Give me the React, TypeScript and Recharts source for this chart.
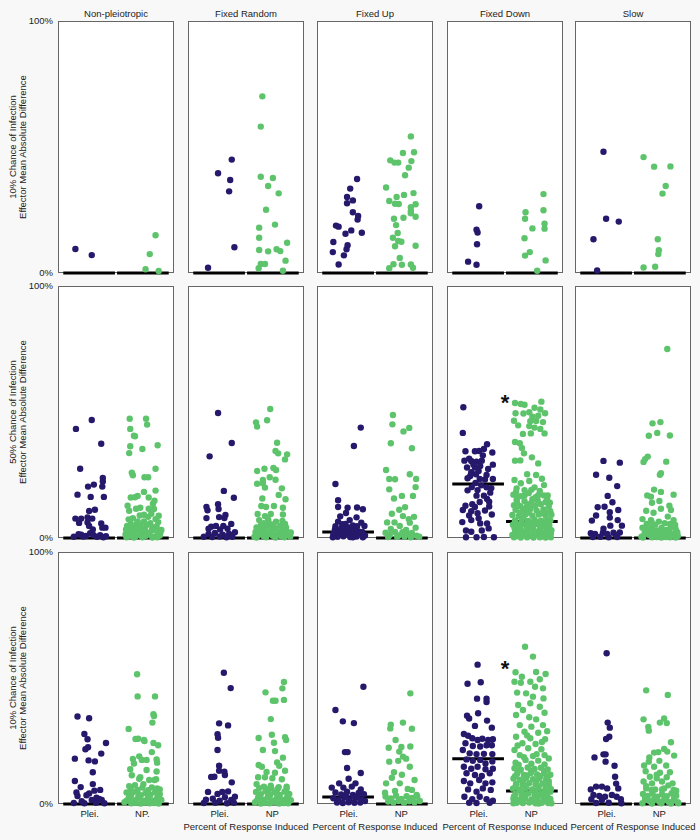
import { ReferenceLine, Scatter, ScatterChart, XAxis, YAxis } from "recharts";

type Pt = [number, number];

const columns = ["Non-pleiotropic", "Fixed Random", "Fixed Up", "Fixed Down", "Slow"];
const rowLabels = [
  ["10% Chance of Infection", "Effector Mean Absolute Difference"],
  ["50% Chance of Infection", "Effector Mean Absolute Difference"],
  ["10% Chance of Infection", "Effector Mean Absolute Difference"],
];
const yTicks = [0, 100];
const xTicks = [1, 2];
const groupLabels = ["Plei.", "NP"];
const firstGroupLabels = ["Plei.", "NP."];
const xTitle = "Percent of Response Induced";

// medians (%), rows x columns
const pleiMedians = [
  [0, 0, 0, 0, 0],
  [0, 0, 2.4, 21.4, 0],
  [0, 0, 2.8, 18, 0],
];
const npMedians = [
  [0, 0, 0, 0, 0],
  [0, 0, 0, 6.5, 0],
  [0, 0, 0, 5.2, 0],
];
const starred = [
  [false, false, false, false, false],
  [false, false, false, true, false],
  [false, false, false, true, false],
];

// ---- row 1: 10% chance of infection ----
const r1NonPleiPlei: Pt[] = [[0.73, 9.5], [1.04, 7.1]];
const r1NonPleiNp: Pt[] = [[2.25, 15], [2.14, 7.5], [2.06, 1.5], [2.31, 0.8]];

const r1RandomPlei: Pt[] = [[0.78, 2.1], [0.97, 39.6], [1.23, 45], [1.2, 36.9], [1.18, 32.4], [1.28, 10.2]];
const r1RandomNp: Pt[] = [
  [1.81, 70.1], [1.78, 58.1], [1.78, 38.2], [2.01, 37.7], [1.92, 34.5], [2.12, 31.6], [1.88, 25.1],
  [2.05, 19.2], [1.75, 18], [1.75, 14], [2.28, 12], [1.75, 9.1], [1.92, 8.6], [2.08, 9.4], [2.15, 8.7],
  [2.25, 4.9], [1.78, 3.6], [1.86, 3.6], [1.74, 1.9], [2.2, 0.9],
];

const r1UpPlei: Pt[] = [
  [1.16, 37.3], [1.03, 33.5], [0.97, 30.2], [1.08, 28.8], [0.97, 27.7], [1.08, 24.1], [1.18, 22.6],
  [1.17, 21.2], [0.76, 18.8], [0.81, 18.4], [1.05, 16.9], [0.94, 15.6], [1.25, 16], [0.71, 12.3],
  [0.98, 11], [0.96, 9.4], [0.7, 8.3], [0.91, 7], [0.81, 3.4],
];
const r1UpNp: Pt[] = [
  [2.18, 54.2], [2.03, 47.6], [2.24, 47.9], [1.79, 44.7], [1.87, 43.8], [1.94, 43.8], [2.19, 44.4],
  [2.14, 41.8], [2.07, 38.8], [1.71, 33.9], [1.91, 30.2], [2.05, 31], [2.23, 31.7], [1.77, 28.6],
  [1.88, 27.5], [1.95, 27.4], [2.27, 27.3], [2.18, 26.1], [2.18, 23.7], [2.18, 24.6], [2.27, 22.3],
  [2.04, 21.9], [1.86, 21.5], [1.9, 19], [1.93, 15.9], [1.84, 14], [1.94, 12.7], [2.0, 12.4],
  [1.88, 10.6], [2.27, 10.8], [1.97, 6], [1.85, 3.5], [2.01, 3.3], [2.18, 3.4], [1.77, 1.9], [2.22, 2.1],
];

const r1DownPlei: Pt[] = [[1.01, 26.5], [0.96, 17.2], [0.98, 16.1], [0.97, 11.4], [0.8, 4.5], [0.96, 3.3]];
const r1DownNp: Pt[] = [
  [2.23, 31.3], [1.89, 24.1], [2.23, 24.9], [1.88, 21.5], [2.25, 19.6], [2.25, 17.6], [2.02, 17.7],
  [1.87, 13.8], [1.97, 8.3], [1.88, 6.9], [2.27, 5], [2.11, 0.9],
];

const r1SlowPlei: Pt[] = [[0.94, 48.1], [0.99, 21.5], [1.23, 20.4], [0.75, 13.4], [0.82, 1]];
const r1SlowNp: Pt[] = [
  [1.7, 46], [1.9, 42.2], [2.21, 42.3], [2.12, 34.5], [2.06, 31.5], [1.97, 13.4], [1.99, 9], [1.98, 7.5],
  [1.7, 2.2], [1.92, 2.5],
];

// ---- row 2: 50% chance of infection ----
const r2NonPleiPlei: Pt[] = [
  [1.04, 46.8], [0.74, 43.3], [1.22, 37.4], [0.82, 27.5], [1.25, 23.8], [1.25, 22.4], [1.08, 21.2],
  [0.97, 20.4], [1.24, 20.4], [0.77, 17.2], [1.02, 16.3], [1.27, 16.3], [1.1, 11.2], [0.99, 10.7],
  [0.73, 7.7], [0.84, 7.7], [0.96, 8.2], [1.05, 7.7], [0.8, 6], [0.96, 6.2], [0.99, 4.8], [1.22, 5.8],
  [1.24, 4.1], [1.06, 3.4], [1.3, 4.1], [0.79, 1.5], [0.84, 1.3], [1.01, 1.9], [1.07, 1.2], [1.2, 1.1],
  [1.31, 0.7], [0.93, 0.8], [0.7, 0.5], [0.88, 0.6], [1.14, 0.5], [1.26, 0.3],
];
const r2NonPleiNp: Pt[] = [
  [1.76, 47.3], [2.07, 47.3], [2.09, 45], [1.77, 43.3], [1.84, 40.6], [1.86, 40.4], [1.77, 36.4],
  [2.0, 35.3], [2.29, 36.8], [1.75, 33.7], [2.25, 27.5], [1.8, 25.9], [1.82, 24.9], [2.04, 24.1],
  [2.11, 24.1], [1.78, 16.1], [1.86, 16.2], [1.91, 16.7], [2.03, 18.3], [2.25, 18.8], [2.12, 16.1],
  [2.23, 14.8], [1.75, 10.8], [1.88, 11.6], [1.96, 12], [2.12, 11.6], [2.22, 11.5], [1.74, 7.4],
  [1.82, 7.9], [1.91, 6.6], [2.03, 9.2], [2.11, 8.4], [2.25, 7.5], [1.71, 4.8], [1.8, 4.2], [1.89, 4.9],
  [1.97, 5.4], [2.08, 5.2], [2.19, 4.3], [2.27, 4.6], [1.73, 2.5], [1.83, 1.8], [1.92, 2.9], [2.01, 2.2],
  [2.1, 2.1], [2.18, 3.1], [2.29, 2.4], [1.77, 0.9], [1.87, 0.6], [1.96, 1.1], [2.06, 0.8], [2.14, 1.3],
  [2.24, 0.6], [2.33, 1.0], [1.68, 1.4], [1.81, 3.4], [2.15, 5.9], [1.95, 8.9], [2.17, 9.6], [1.72, 12.8],
  [2.2, 13.6], [1.98, 3.8], [2.36, 3.2], [2.31, 8.8],
  [1.69, 3.4], [1.78, 2.9], [1.87, 3.6], [2.05, 3.2], [2.23, 3.4], [2.34, 2.0], [1.7, 0.3], [1.84, 0.2],
  [2.0, 0.3], [2.19, 0.2], [2.28, 0.3], [1.9, 5.9], [2.03, 6.6], [2.3, 6.3], [1.78, 5.7],
];

const r2RandomPlei: Pt[] = [
  [0.97, 49.6], [1.23, 37.7], [0.81, 32.4], [1.08, 18.7], [1.27, 16], [0.75, 12.3], [0.97, 13.4],
  [0.77, 11], [0.98, 11.5], [0.99, 8.3], [1.11, 9.1], [0.75, 7.9], [1.09, 7.9], [0.84, 4.5], [0.93, 4.8],
  [1.07, 4.8], [1.22, 5.6], [0.79, 3.7], [1.01, 3.4], [1.15, 3.7], [0.79, 1.6], [0.91, 2], [1.06, 1.3],
  [1.18, 1.6], [1.29, 2.3], [0.7, 0.5], [0.86, 0.4], [1.0, 0.6], [1.13, 0.3], [1.24, 0.5],
];
const r2RandomNp: Pt[] = [
  [1.96, 51.2], [1.69, 45.9], [1.71, 44.2], [1.9, 46.7], [2.09, 37.8], [2.06, 34.5], [2.11, 33.6],
  [2.28, 33.2], [2.24, 31.2], [1.71, 26.6], [1.85, 27.5], [2.02, 27.8], [2.07, 27], [1.82, 23],
  [1.95, 24.1], [2.06, 23.1], [1.71, 21.5], [1.82, 21.7], [1.86, 20], [2.18, 19.7], [1.81, 15.7],
  [2.12, 17.1], [2.25, 15.4], [1.79, 12.7], [1.88, 12.3], [2.03, 12.7], [2.2, 12], [1.72, 9.5],
  [1.86, 8.7], [1.97, 9.5], [2.2, 9.3], [1.75, 7.1], [1.92, 7.4], [2.07, 6.5], [2.24, 5.6],
  [1.7, 4.2], [1.79, 3.1], [1.88, 4.6], [1.96, 2.8], [2.05, 3.9], [2.13, 2.5], [2.21, 3.4], [2.3, 2.2],
  [1.74, 1.4], [1.83, 0.8], [1.92, 1.6], [2.01, 0.9], [2.09, 1.5], [2.17, 0.7], [2.26, 1.2], [2.34, 0.6],
  [1.66, 0.5], [2.02, 5.4], [2.15, 4.8], [1.84, 5.9],
  [1.68, 2.4], [1.76, 2.2], [1.85, 2.7], [2.0, 2.6], [2.18, 2.3], [2.35, 2.2], [1.7, 0.2], [1.88, 0.3],
  [2.06, 0.2], [2.23, 0.3], [1.78, 5.0], [1.97, 4.6], [2.26, 4.2], [1.93, 6.2], [2.19, 6.8],
];

const r2UpPlei: Pt[] = [
  [1.23, 43.8], [1.1, 36.5], [0.75, 21.4], [0.8, 15], [0.8, 12.3], [0.98, 12], [1.16, 12.1], [1.27, 11.4],
  [0.95, 9.9], [0.84, 8.6], [1.15, 8.2], [1.02, 7.1], [0.8, 6.5], [1.24, 6.1], [0.94, 5.6], [1.3, 4.8],
  [0.75, 4.7], [0.86, 3.9], [1.0, 4.2], [1.12, 3.6], [0.78, 2.8], [0.92, 2.5], [1.05, 2.9], [1.19, 2.6],
  [0.71, 1.6], [0.84, 1.4], [0.97, 1.8], [1.09, 1.2], [1.22, 1.7], [1.31, 1.0], [0.79, 0.5], [0.9, 0.7],
  [1.03, 0.4], [1.15, 0.6], [1.27, 0.3], [0.95, 3.3], [1.08, 5.0], [0.88, 5.5],
  [0.74, 3.4], [0.83, 2.6], [1.16, 4.7], [1.26, 2.4], [0.91, 1.1], [1.14, 1.3], [0.7, 0.3], [1.08, 0.3],
];
const r2UpNp: Pt[] = [
  [1.84, 48.8], [1.83, 45.1], [2.04, 42.3], [2.15, 43.7], [1.8, 37.6], [2.2, 35.6], [1.71, 27], [2.16, 25.3],
  [1.77, 23.4], [1.88, 23.3], [2.28, 23.4], [1.77, 19.3], [2.27, 20.2], [1.86, 15.7], [2.01, 16.7],
  [2.22, 16.7], [1.96, 11.2], [2.07, 12.2], [2.03, 8.7], [1.73, 6.2], [1.87, 6.2], [2.16, 6.1], [1.97, 4.8],
  [2.27, 4.1], [1.8, 3.6], [2.09, 3.2], [1.7, 2.1], [1.78, 1.2], [1.88, 2.4], [1.95, 1.0], [2.02, 2.3],
  [2.12, 1.5], [2.2, 2.0], [2.29, 0.9], [1.75, 0.4], [1.92, 0.5], [2.06, 0.6], [2.18, 0.3], [2.34, 0.5],
  [2.14, 7.5], [1.82, 9.6], [2.24, 8.4],
];

const r2DownPlei: Pt[] = [
  [0.71, 51.9], [0.7, 41.7], [0.75, 34.4], [0.93, 34.4], [1.01, 34.5], [1.16, 37.2], [1.1, 35.3],
  [1.26, 33.9], [0.73, 30.7], [0.86, 30.6], [0.96, 30.3], [1.06, 30.7], [1.27, 29.1], [0.78, 28],
  [0.93, 28], [1.03, 28.6], [0.86, 26.1], [0.95, 25.3], [1.15, 25], [0.79, 23.7], [1.02, 23.4],
  [1.27, 23.4], [0.87, 20.2], [1.15, 20.1], [0.98, 19], [1.22, 18], [0.96, 16.8], [1.1, 16.8],
  [1.2, 14.4], [0.75, 12.8], [0.93, 12.3], [1.2, 12.5], [0.7, 11.1], [0.86, 10.6], [1.12, 10.9],
  [0.86, 7.1], [1.0, 7.8], [0.69, 6.3], [1.03, 5.8], [1.16, 5.8], [0.76, 3], [1.06, 3], [0.76, 0.3],
  [0.96, 0.3], [1.1, 0.4], [1.29, 0.3], [0.82, 31.5], [1.08, 32.8], [0.9, 29.2], [1.18, 27.4],
  [1.0, 26.6], [0.84, 24.6], [1.12, 23.2], [0.94, 21.8], [1.05, 20.9], [1.24, 19.8], [0.79, 18.9],
  [1.02, 14.3], [1.16, 15.5], [0.88, 13.4], [0.98, 9.8], [1.25, 9.3], [0.82, 8.9], [1.19, 3.8], [0.86, 2.5],
];
const r2DownNp: Pt[] = [
  [1.69, 53.6], [1.8, 53.2], [1.87, 52.9], [2.19, 54.1], [2.06, 51.7], [2.17, 51], [2.26, 49.5],
  [1.7, 49.5], [1.85, 49.4], [1.96, 49.9], [2.02, 48.1], [2.13, 48.5], [1.67, 46.5], [1.98, 46.3],
  [2.09, 46.4], [2.22, 46], [1.75, 44.7], [1.96, 44.4], [2.06, 43.8], [2.17, 43.3], [2.25, 41.5],
  [1.84, 41.3], [1.99, 41.5], [1.69, 38.1], [1.78, 37.6], [1.82, 35.7], [1.86, 33.6], [2.01, 32],
  [1.69, 30.7], [1.79, 30.8], [2.13, 29.6], [1.92, 25.3], [2.09, 25], [1.68, 23], [2.2, 23.5],
  [1.8, 21.7], [1.96, 22.6], [2.24, 21], [1.72, 19.7], [1.87, 19], [2.06, 20.1], [2.16, 18.7],
  [1.66, 17.2], [1.8, 16.6], [1.95, 17.8], [2.24, 16.9],
  [1.72, 15.1], [1.87, 14.6], [2.02, 15.4], [2.12, 14.9], [2.3, 15.2],
  [1.67, 13.0], [1.79, 12.6], [1.93, 13.3], [2.07, 12.8], [2.18, 13.4], [2.33, 12.5],
  [1.7, 11.2], [1.84, 10.7], [1.98, 11.5], [2.1, 10.9], [2.23, 11.3], [2.36, 10.6],
  [1.64, 9.1], [1.76, 8.7], [1.89, 9.4], [2.02, 8.8], [2.14, 9.3], [2.27, 8.9], [2.38, 9.2],
  [1.69, 7.0], [1.82, 7.4], [1.94, 6.8], [2.06, 7.3], [2.18, 6.9], [2.31, 7.2],
  [1.65, 5.3], [1.77, 4.9], [1.88, 5.4], [2.0, 5.0], [2.11, 5.5], [2.22, 4.8], [2.34, 5.1],
  [1.7, 3.2], [1.82, 2.8], [1.93, 3.4], [2.05, 2.9], [2.16, 3.3], [2.28, 2.7], [2.38, 3.1],
  [1.64, 1.2], [1.75, 0.8], [1.87, 1.4], [1.98, 0.9], [2.09, 1.3], [2.21, 0.7], [2.32, 1.1],
  [1.73, 16.0], [2.08, 16.2], [2.35, 14.0], [1.9, 12.0], [2.27, 10.2], [1.78, 10.0], [2.0, 6.1],
  [2.25, 6.0], [1.92, 2.0], [2.13, 2.1],
  [1.7, 6.2], [1.81, 6.0], [1.96, 5.9], [2.09, 6.3], [2.24, 6.6], [2.36, 7.0], [1.68, 4.1], [1.79, 4.0],
  [1.92, 4.4], [2.03, 4.1], [2.17, 4.5], [2.29, 4.0], [1.69, 2.2], [1.8, 1.9], [1.93, 2.4], [2.04, 1.9],
  [2.19, 2.3], [2.3, 2.0], [2.37, 1.9], [1.67, 0.3], [1.8, 0.2], [1.92, 0.3], [2.04, 0.2], [2.16, 0.3],
  [2.27, 0.2], [2.37, 0.3], [1.85, 8.0], [2.2, 9.8], [1.95, 10.1], [1.73, 13.9], [2.0, 14.0], [2.27, 14.3],
  [1.87, 16.9], [2.13, 17.0], [2.31, 16.9], [1.71, 18.3], [2.0, 19.1],
];

const r2SlowPlei: Pt[] = [
  [0.94, 30.6], [1.25, 29.9], [0.8, 25.1], [1.05, 23.9], [1.2, 20.6], [1.02, 16.7], [1.11, 14.2],
  [0.83, 12.2], [0.96, 12.4], [1.22, 11.1], [0.8, 8.9], [1.06, 10.2], [1.06, 8.1], [0.72, 6.9],
  [1.21, 7.1], [1.29, 4.9], [0.94, 3.7], [1.07, 4.9], [0.7, 1.9], [0.78, 1.6], [0.93, 2.1], [1.01, 1.6],
  [1.13, 2.1], [1.25, 2.2], [1.18, 1.1], [0.74, 0.4], [0.88, 0.5], [1.04, 0.3], [1.2, 0.4],
];
const r2SlowNp: Pt[] = [
  [2.15, 75], [1.87, 45.5], [2.02, 46], [1.96, 41.7], [1.8, 40.6], [2.2, 40.7], [1.78, 32.3], [1.7, 30.2],
  [1.73, 31.3], [2.13, 30.3], [2.01, 25.1], [2.03, 25.7], [1.9, 19.2], [1.77, 16.9], [1.84, 16.4],
  [2.03, 18.3], [2.27, 17.2], [1.86, 14], [2.0, 14.7], [2.19, 12.8], [1.75, 10.8], [1.89, 10], [2.03, 11.6],
  [2.22, 11.1], [1.68, 7.5], [1.84, 7.1], [1.99, 6.5], [2.16, 8.5], [2.27, 7.1],
  [1.68, 4.1], [1.77, 3.4], [1.86, 4.4], [1.95, 3.0], [2.04, 4.0], [2.13, 3.2], [2.22, 4.3], [2.31, 3.5],
  [1.72, 1.8], [1.81, 1.2], [1.9, 2.0], [1.99, 1.0], [2.08, 1.7], [2.17, 0.9], [2.26, 1.5], [2.35, 0.8],
  [1.76, 5.6], [2.1, 5.9], [2.3, 5.2], [1.66, 0.5], [1.95, 0.4], [2.2, 0.3],
  [1.73, 2.6], [1.82, 2.4], [2.0, 2.6], [2.19, 2.5], [2.34, 2.3], [1.69, 0.2], [1.86, 0.3], [2.04, 0.2],
  [2.13, 0.4], [2.31, 0.2], [1.92, 5.3], [2.2, 5.6], [1.85, 6.5],
];

// ---- row 3: 10% chance of infection ----
const r3NonPleiPlei: Pt[] = [
  [0.77, 34.7], [0.99, 34], [0.9, 27.8], [0.96, 25.7], [0.97, 22.5], [0.92, 21.7], [1.31, 24.2], [1.22, 20],
  [0.72, 18], [0.98, 17.3], [1.1, 16.9], [1.06, 12.6], [0.72, 9.1], [1.06, 7.9], [0.83, 6.7], [0.75, 4.6],
  [0.77, 3.2], [0.94, 3.5], [1.09, 5.3], [1.2, 5.6], [0.99, 4.2], [1.13, 2.5], [1.18, 2], [1.04, 1.6],
  [0.85, 1.1], [1.23, 1.6], [0.7, 0.4], [0.9, 0.3], [1.12, 0.5], [1.28, 0.3],
];
const r3NonPleiNp: Pt[] = [
  [1.9, 51.5], [1.91, 42.7], [2.24, 42.7], [2.21, 35.6], [2.22, 34.9], [2.19, 32.3], [1.74, 29.8],
  [1.87, 25.8], [1.92, 25.9], [2.03, 25.4], [2.04, 25], [2.21, 24.2], [2.3, 23.3], [2.18, 20.6],
  [1.94, 18.9], [1.99, 17.5], [2.08, 17.5], [1.82, 17.9], [2.27, 17.7], [2.28, 16.4], [1.77, 13.8],
  [2.08, 13.5], [2.27, 12.9], [1.84, 16.1], [1.8, 11.4], [1.96, 10.6], [2.13, 9.5], [2.23, 9.5],
  [1.75, 7.1], [1.86, 7.5], [2.02, 7.9], [2.18, 6.6], [2.28, 6.2],
  [1.7, 4.6], [1.79, 3.8], [1.88, 4.9], [1.97, 3.5], [2.06, 4.4], [2.15, 3.7], [2.24, 4.6], [2.33, 3.9],
  [1.74, 2.2], [1.83, 1.5], [1.92, 2.5], [2.01, 1.3], [2.1, 2.2], [2.19, 1.4], [2.28, 2.3], [2.36, 1.6],
  [1.66, 0.7], [1.87, 0.5], [2.05, 0.6], [2.23, 0.4], [1.78, 6.0], [2.0, 6.5], [2.26, 9.8], [1.94, 10.0],
  [1.75, 3.0], [1.93, 3.2], [2.11, 3.0], [2.3, 3.1], [1.7, 1.3], [1.79, 0.3], [1.97, 0.2], [2.14, 0.3],
  [2.31, 0.2], [1.91, 5.6], [2.11, 5.5], [2.33, 5.8],
];

const r3RandomPlei: Pt[] = [
  [1.08, 52.1], [1.21, 46], [0.99, 32], [1.16, 31.2], [0.96, 27.7], [0.97, 26.3], [0.96, 21.4], [0.99, 15.2],
  [0.99, 13.2], [1.09, 12.8], [1.1, 11.5], [0.84, 10.7], [0.9, 10.8], [1.23, 8.6], [0.78, 4.8], [0.96, 4],
  [1.05, 4.8], [1.16, 5], [1.29, 2.9], [0.74, 1.7], [0.87, 2.1], [1.1, 2.7], [1.22, 1.6], [1.0, 1.3],
  [0.7, 0.4], [0.92, 0.5], [1.14, 0.3], [1.27, 0.5],
];
const r3RandomNp: Pt[] = [
  [2.22, 48.4], [1.87, 44.3], [2.19, 45.9], [2.01, 41], [2.06, 41], [2.22, 41.3], [1.97, 33.7], [1.74, 26.2],
  [1.99, 27.5], [2.24, 26.5], [2.26, 25.4], [2.03, 24.3], [1.82, 21.4], [2.05, 21], [2.2, 18.4],
  [1.74, 15.5], [1.8, 14.8], [2.09, 16.5], [2.13, 15.2], [1.89, 12.7], [2.05, 12.4], [2.24, 13.2],
  [1.73, 10.6], [1.86, 10.6], [2.0, 10.2], [2.18, 9.8], [1.7, 7.9], [1.84, 6.9], [1.97, 7.3], [2.12, 6.7],
  [2.27, 6.9],
  [1.69, 4.8], [1.78, 3.9], [1.87, 5.1], [1.96, 3.7], [2.05, 4.7], [2.14, 3.6], [2.23, 4.9], [2.32, 4.0],
  [1.73, 2.4], [1.82, 1.7], [1.91, 2.6], [2.0, 1.4], [2.09, 2.5], [2.18, 1.6], [2.27, 2.3], [2.35, 1.5],
  [1.67, 0.6], [1.86, 0.5], [2.04, 0.7], [2.22, 0.4], [1.75, 6.3], [2.1, 6.0],
  [1.74, 3.2], [1.92, 3.3], [2.1, 3.4], [2.29, 3.1], [1.7, 1.2], [1.78, 0.2], [1.95, 0.3], [2.13, 0.2],
  [2.3, 0.3], [1.92, 5.9], [2.27, 6.2], [1.98, 6.1],
];

const r3UpPlei: Pt[] = [
  [1.28, 46.5], [0.75, 37.3], [0.89, 32.8], [1.1, 32.1], [0.93, 20.6], [0.98, 20.6], [0.97, 14.3],
  [1.23, 12.3], [1.0, 10], [0.82, 8.2], [1.13, 8.2], [0.68, 6.5], [0.9, 6.5], [1.06, 6.9], [1.23, 5.8],
  [0.75, 4.6], [0.86, 3.8], [0.97, 4.9], [1.08, 3.6], [1.19, 4.4], [1.29, 3.9], [0.71, 2.3], [0.81, 1.6],
  [0.92, 2.6], [1.02, 1.5], [1.13, 2.4], [1.24, 1.7], [0.78, 0.6], [0.89, 0.4], [1.0, 0.7], [1.11, 0.5],
  [1.22, 0.6], [1.31, 1.2], [0.95, 3.2], [1.16, 3.1],
];
const r3UpNp: Pt[] = [
  [2.17, 43.9], [1.8, 31.5], [1.79, 30], [2.03, 32.3], [2.2, 29.9], [1.89, 25.4], [1.76, 22.3], [2.0, 22.6],
  [2.17, 22.8], [1.96, 20.8], [2.03, 18.8], [1.77, 16.8], [1.94, 17.1], [2.09, 18], [1.86, 12.6],
  [2.01, 11.6], [2.16, 14.8], [2.25, 9.5], [1.71, 8.2], [1.82, 10.4], [1.97, 8.2], [2.2, 5.6], [1.69, 4.5],
  [2.29, 3.6],
  [1.7, 3.0], [1.8, 2.2], [1.9, 3.3], [2.0, 2.0], [2.1, 3.1], [2.2, 2.4], [2.3, 3.0], [1.75, 1.0],
  [1.85, 0.6], [1.95, 1.2], [2.05, 0.5], [2.15, 1.1], [2.25, 0.7], [2.35, 1.2], [1.88, 5.2], [2.12, 6.0],
];

const r3DownPlei: Pt[] = [
  [0.98, 55.3], [0.79, 47.7], [1.04, 48.3], [0.97, 41.8], [1.15, 41.8], [1.15, 40.5], [0.78, 35],
  [0.99, 36], [0.82, 33.9], [1.16, 33.1], [0.93, 31], [1.25, 30.3], [0.72, 27.8], [0.8, 27.1],
  [0.88, 26.1], [0.98, 25.4], [1.07, 25.9], [1.18, 25.4], [1.27, 25.7], [0.75, 24.1], [0.89, 23],
  [1.03, 22.8], [1.15, 23.3], [1.25, 23.3], [0.7, 21.4], [0.83, 20.1], [0.96, 19.8], [1.1, 19.9],
  [1.26, 19.8], [0.77, 17.7], [0.89, 17.1], [1.03, 17.5], [1.13, 16.1], [1.26, 16.9], [0.72, 14.8],
  [0.86, 14], [0.98, 14.8], [1.13, 13.8], [1.27, 14], [0.77, 12.2], [0.93, 11.5], [1.06, 11.1],
  [1.21, 12.2], [0.72, 9.1], [0.84, 8.2], [1.01, 9.5], [1.13, 8.2], [1.26, 8.6], [0.8, 5.8], [0.96, 4.9],
  [1.08, 6.2], [1.23, 5.6], [0.73, 2.9], [0.88, 1.9], [1.02, 2.9], [1.15, 1.9], [1.27, 1.3], [0.82, 0.5],
  [0.96, 0.4], [1.21, 0.5],
];
const r3DownNp: Pt[] = [
  [1.88, 62.4], [2.03, 58.5], [1.7, 52.3], [2.09, 52.4], [2.27, 51.6], [1.82, 50.5], [1.68, 48.5],
  [1.8, 48.1], [1.98, 48.5], [2.16, 49.5], [2.07, 46.5], [2.22, 45.9], [1.73, 44.2], [1.9, 43.9],
  [2.03, 42.6], [2.23, 41.9], [1.75, 39.3], [1.98, 40], [2.16, 38.6], [1.84, 37.3], [2.25, 36.2],
  [1.71, 35.3], [1.96, 34.4], [2.09, 33.6], [1.78, 31.3], [2.22, 31.3], [2.0, 30.7], [1.87, 28.7],
  [2.13, 28.3], [1.71, 26.7], [1.98, 26.1], [2.26, 25.7], [1.83, 24.1], [2.08, 23.8], [1.94, 22.1],
  [1.68, 21.4], [2.19, 21.7], [1.78, 19.4], [2.03, 19], [2.25, 19.4], [1.89, 17.5], [2.13, 17.2], [1.7, 16.4],
  [1.68, 14.2], [1.8, 13.6], [1.93, 14.5], [2.06, 13.9], [2.18, 14.4], [2.31, 13.7],
  [1.73, 12.0], [1.86, 11.5], [1.99, 12.3], [2.11, 11.7], [2.24, 12.2], [2.36, 11.6],
  [1.66, 10.1], [1.78, 9.6], [1.9, 10.3], [2.03, 9.8], [2.15, 10.2], [2.28, 9.7],
  [1.71, 8.0], [1.83, 7.6], [1.96, 8.3], [2.08, 7.7], [2.21, 8.2], [2.33, 7.8],
  [1.65, 6.1], [1.77, 5.7], [1.89, 6.3], [2.01, 5.8], [2.13, 6.2], [2.26, 5.6], [2.37, 6.0],
  [1.7, 4.0], [1.82, 3.6], [1.94, 4.2], [2.06, 3.7], [2.18, 4.1], [2.3, 3.5],
  [1.66, 2.1], [1.76, 1.7], [1.88, 2.3], [2.0, 1.8], [2.12, 2.2], [2.24, 1.6], [2.36, 2.0],
  [1.72, 0.5], [1.84, 0.4], [1.96, 0.6], [2.08, 0.3], [2.2, 0.5], [2.32, 0.4],
  [1.75, 13.0], [2.0, 13.2], [2.25, 13.0], [1.69, 11.0], [1.92, 11.3], [2.17, 11.0], [2.3, 10.8],
  [1.84, 9.0], [2.09, 9.1], [2.33, 9.0], [1.7, 7.0], [1.9, 7.2], [2.14, 7.0], [2.27, 7.1], [1.83, 5.0],
  [2.07, 5.0], [2.24, 4.8], [2.36, 4.9], [1.67, 3.0], [1.88, 3.1], [2.12, 3.0], [2.24, 3.0], [1.8, 1.0],
  [2.05, 1.0], [2.3, 1.1], [1.66, 0.3], [2.14, 0.2], [2.38, 0.3], [1.76, 15.6], [2.0, 16.0], [2.25, 15.7],
  [1.86, 18.6], [2.1, 19.8], [2.33, 18.1], [1.74, 23.2], [2.2, 24.6], [1.92, 27.2], [2.3, 28.9],
];

const r3SlowPlei: Pt[] = [
  [1.0, 59.8], [1.02, 32.3], [1.06, 30.3], [1.05, 26.7], [0.99, 25.8], [0.94, 19.7], [0.98, 19.7],
  [0.77, 18.5], [0.98, 16.8], [1.15, 15.2], [1.16, 10.8], [1.18, 8.1], [0.7, 5.8], [0.8, 6.9], [0.91, 6.9],
  [1.01, 6.2], [1.22, 6.2], [0.75, 3.6], [0.86, 3.2], [0.97, 2.9], [1.1, 3.6], [1.27, 1.9], [0.71, 1.9],
  [0.91, 1.6], [1.19, 2.9], [0.8, 0.4], [1.04, 0.5], [1.28, 0.3],
];
const r3SlowNp: Pt[] = [
  [1.75, 45.1], [2.16, 43.3], [1.7, 33.6], [2.01, 32.3], [2.09, 33.9], [2.14, 32.1], [1.79, 30.6], [1.8, 29.1],
  [2.22, 24.5], [1.9, 20.4], [1.98, 20.6], [2.09, 21.8], [2.15, 20.8], [1.81, 18.5], [2.28, 19.2],
  [1.8, 16.8], [2.0, 17.1], [1.71, 15.3], [1.9, 14.8], [2.13, 15.3], [1.74, 13], [2.01, 12.4], [2.2, 12.6],
  [1.82, 10.8], [1.95, 11.6], [2.14, 10.6], [1.7, 8.9], [1.86, 8.2], [2.05, 8.9], [2.25, 8.2], [1.75, 6.2],
  [1.92, 5.8], [2.09, 6.2], [2.27, 5.6],
  [1.69, 4.0], [1.78, 3.2], [1.87, 4.3], [1.96, 2.9], [2.05, 3.9], [2.14, 3.1], [2.23, 4.2], [2.32, 3.3],
  [1.73, 1.7], [1.82, 1.1], [1.91, 1.9], [2.0, 0.9], [2.09, 1.6], [2.18, 0.8], [2.27, 1.4], [2.35, 0.7],
  [1.75, 7.1], [2.17, 7.4], [1.95, 10.2],
  [1.73, 2.6], [1.91, 2.7], [2.1, 2.5], [2.28, 2.6], [1.68, 0.3], [1.86, 0.2], [2.04, 0.3], [2.22, 0.2],
  [2.36, 0.3], [1.85, 5.6], [2.05, 5.8], [2.32, 5.3],
];

const pleiData: Pt[][][] = [
  [r1NonPleiPlei, r1RandomPlei, r1UpPlei, r1DownPlei, r1SlowPlei],
  [r2NonPleiPlei, r2RandomPlei, r2UpPlei, r2DownPlei, r2SlowPlei],
  [r3NonPleiPlei, r3RandomPlei, r3UpPlei, r3DownPlei, r3SlowPlei],
];
const npData: Pt[][][] = [
  [r1NonPleiNp, r1RandomNp, r1UpNp, r1DownNp, r1SlowNp],
  [r2NonPleiNp, r2RandomNp, r2UpNp, r2DownNp, r2SlowNp],
  [r3NonPleiNp, r3RandomNp, r3UpNp, r3DownNp, r3SlowNp],
];

const PLEI = "#26196c";
const NP = "#5ec46c";
const FONT = '"Liberation Sans", Arial, Helvetica, sans-serif';
const PANEL_LEFT = [58, 188, 317, 447, 575];
const PANEL_TOP = [21, 286, 552];
const PW = 116;
const PH = 252;
const Y_AXIS_W = 58;
const X_AXIS_H = 36;
const PAD = 12; // room for text and dots that sit on the panel edges

const toPoints = (pts: Pt[]) => pts.map(([x, y]) => ({ x, y }));
const dot = (color: string) => (props: any) => <circle cx={props.cx} cy={props.cy} r={3.2} fill={color} />;

function Panel({ row, col }: { row: number; col: number }) {
  const firstCol = col === 0;
  const lastRow = row === 2;
  const yw = firstCol ? Y_AXIS_W : 0;
  const xh = lastRow ? X_AXIS_H : 0;
  const labels = firstCol ? firstGroupLabels : groupLabels;
  const pm = pleiMedians[row][col];
  const nm = npMedians[row][col];

  return (
    <>
      <div
        style={{
          position: "absolute",
          left: PANEL_LEFT[col],
          top: PANEL_TOP[row],
          width: PW,
          height: PH,
          background: "#fff",
          border: "1px solid #666",
          boxSizing: "border-box",
        }}
      />
      <div style={{ position: "absolute", left: PANEL_LEFT[col] - yw - PAD, top: PANEL_TOP[row] - PAD }}>
        <ScatterChart
          width={PW + yw + 2 * PAD}
          height={PH + xh + 2 * PAD}
          margin={{ top: PAD, right: PAD, bottom: PAD, left: PAD }}
        >
          <XAxis
            type="number"
            dataKey="x"
            domain={[0.4, 2.6]}
            ticks={xTicks}
            interval={0}
            hide={!lastRow}
            height={X_AXIS_H}
            axisLine={false}
            tickLine={false}
            tickSize={4}
            tickMargin={2}
            tick={{ fontSize: 9.5, fill: "#222" }}
            tickFormatter={(v: number) => labels[v - 1]}
            label={
              lastRow && !firstCol
                ? { value: xTitle, position: "insideBottom", offset: 10, fontSize: 9.5, fill: "#222" }
                : undefined
            }
          />
          <YAxis
            type="number"
            dataKey="y"
            domain={[0, 100]}
            ticks={yTicks}
            interval={0}
            hide={!firstCol}
            width={Y_AXIS_W}
            axisLine={false}
            tickLine={false}
            tickSize={2}
            tickMargin={3}
            tick={{ fontSize: 9.5, fill: "#222" }}
            tickFormatter={(v: number) => `${v}%`}
          />
          <Scatter data={toPoints(pleiData[row][col])} shape={dot(PLEI)} isAnimationActive={false} />
          <Scatter data={toPoints(npData[row][col])} shape={dot(NP)} isAnimationActive={false} />
          <ReferenceLine
            segment={[{ x: 0.5, y: pm }, { x: 1.48, y: pm }]}
            stroke="#000"
            strokeWidth={3}
            ifOverflow="visible"
          />
          <ReferenceLine
            segment={[{ x: 1.52, y: nm }, { x: 2.5, y: nm }]}
            stroke="#000"
            strokeWidth={3}
            ifOverflow="visible"
          />
        </ScatterChart>
      </div>
      {starred[row][col] && (
        <div
          style={{
            position: "absolute",
            left: PANEL_LEFT[col],
            width: PW,
            top: PANEL_TOP[row] + 106,
            textAlign: "center",
            fontSize: 22,
            lineHeight: "22px",
            fontWeight: "bold",
            color: "#111",
          }}
        >
          *
        </div>
      )}
    </>
  );
}

export default function App() {
  return (
    <div
      style={{
        position: "absolute",
        left: 0,
        top: 0,
        width: 700,
        height: 840,
        background: "#f8f8f8",
        fontFamily: FONT,
        color: "#222",
        overflow: "hidden",
      }}
    >
      {columns.map((c, i) => (
        <div
          key={c}
          style={{
            position: "absolute",
            left: PANEL_LEFT[i],
            width: PW,
            top: 8,
            textAlign: "center",
            fontSize: 9.5,
            lineHeight: "12px",
          }}
        >
          {c}
        </div>
      ))}
      {rowLabels.map((lines, r) => (
        <div
          key={r}
          style={{
            position: "absolute",
            left: 18 - PH / 2,
            top: PANEL_TOP[r] + PH / 2 - 10,
            width: PH,
            height: 20,
            transform: "rotate(-90deg)",
            textAlign: "center",
            fontSize: 9.5,
            lineHeight: "10px",
          }}
        >
          <div>{lines[0]}</div>
          <div>{lines[1]}</div>
        </div>
      ))}
      {PANEL_TOP.map((_, r) => PANEL_LEFT.map((__, c) => <Panel key={`${r}-${c}`} row={r} col={c} />))}
    </div>
  );
}
